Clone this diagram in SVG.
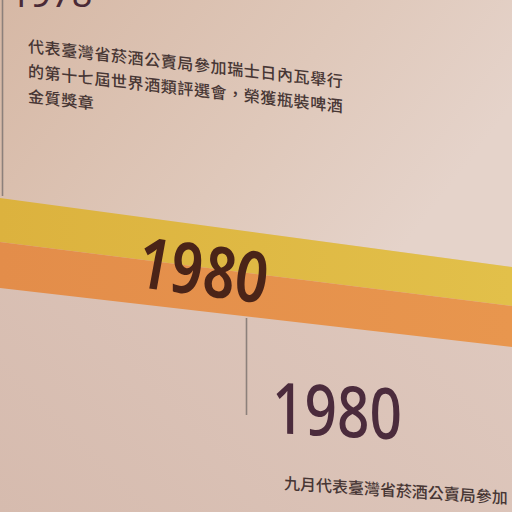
<svg xmlns="http://www.w3.org/2000/svg" width="512" height="512" viewBox="0 0 512 512">
  <defs>
    <linearGradient id="wallTop" x1="0" y1="0" x2="1" y2="0.4">
      <stop offset="0" stop-color="#d6b8a5"/>
      <stop offset="0.6" stop-color="#dfc8ba"/>
      <stop offset="1" stop-color="#e5d3ca"/>
    </linearGradient>
    <linearGradient id="wallBottom" x1="0" y1="1" x2="1" y2="0">
      <stop offset="0" stop-color="#d6bbae"/>
      <stop offset="1" stop-color="#e2cec5"/>
    </linearGradient>
    <linearGradient id="yellowBand" x1="0" y1="0" x2="1" y2="0">
      <stop offset="0" stop-color="#dcb23e"/>
      <stop offset="1" stop-color="#e2c04a"/>
    </linearGradient>
    <linearGradient id="orangeBand" x1="0" y1="0" x2="1" y2="0">
      <stop offset="0" stop-color="#e38d4a"/>
      <stop offset="1" stop-color="#e8964e"/>
    </linearGradient>
    <style>
      .para { font-family: "Noto Sans CJK TC", "Noto Sans CJK SC", sans-serif; font-size: 16px; font-weight: 500; fill: #473634; }
      .year { font-family: "Noto Sans", "Open Sans", sans-serif; }
      .rule { stroke: #8c807b; stroke-width: 1.6; fill: none; }
    </style>
  </defs>

  <!-- wall -->
  <rect x="0" y="0" width="512" height="512" fill="url(#wallBottom)"/>
  <polygon points="0,0 512,0 512,267 0,198" fill="url(#wallTop)"/>

  <!-- timeline band -->
  <g id="band">
    <polygon points="0,198 512,267 512,306 0,242" fill="url(#yellowBand)"/>
    <polygon points="0,242 512,306 512,347 0,288" fill="url(#orangeBand)"/>
  </g>

  <g id="connectors">
    <line class="rule" x1="2.5" y1="0" x2="2.5" y2="196"/>
    <line class="rule" x1="246.5" y1="318" x2="246.5" y2="415"/>
  </g>

  <g id="entry-1978">
    <text class="year" x="10" y="7" font-size="36" fill="#4a2a36">1978</text>
    <g transform="translate(28,52) skewY(6.4)">
      <text class="para" x="0" y="0" letter-spacing="0.6">代表臺灣省菸酒公賣局參加瑞士日內瓦舉行</text>
      <text class="para" x="0" y="25" letter-spacing="0.6">的第十七屆世界酒類評選會，榮獲瓶裝啤酒</text>
      <text class="para" x="0" y="50" letter-spacing="0.6">金質獎章</text>
    </g>
  </g>

  <g id="band-year-1980">
    <g transform="translate(138,287) skewY(7.5)">
      <text class="year" x="0" y="0" font-size="71" font-style="italic" font-weight="600" fill="#4a2418" textLength="129" lengthAdjust="spacingAndGlyphs">1980</text>
    </g>
  </g>

  <g id="entry-1980">
    <g transform="translate(272,433) skewY(3)">
      <text class="year" x="0" y="0" font-size="71" font-weight="500" fill="#4b2b3c" textLength="130" lengthAdjust="spacingAndGlyphs">1980</text>
    </g>
    <g transform="translate(284,489) skewY(3.8)">
      <text class="para" x="0" y="0" font-size="15.5">九月代表臺灣省菸酒公賣局參加</text>
    </g>
  </g>
</svg>
